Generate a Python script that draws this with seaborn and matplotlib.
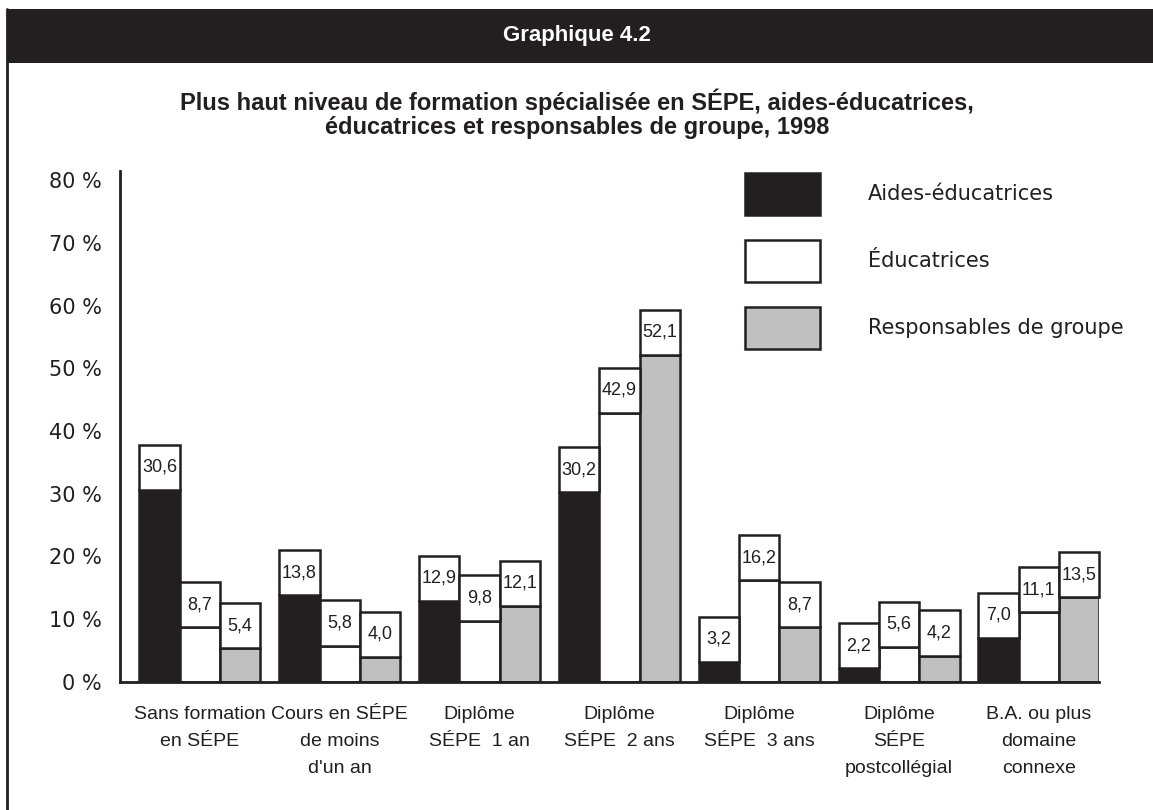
import matplotlib
matplotlib.use("Agg")
import matplotlib.pyplot as plt
from matplotlib.patches import Rectangle
from matplotlib.lines import Line2D
import seaborn as sns
import pandas as pd

categories = ["Sans formation\nen SÉPE", "Cours en SÉPE\nde moins\nd'un an", "Diplôme\nSÉPE  1 an",
              "Diplôme\nSÉPE  2 ans", "Diplôme\nSÉPE  3 ans", "Diplôme\nSÉPE\npostcollégial",
              "B.A. ou plus\ndomaine\nconnexe"]
series_names = ["Aides-éducatrices", "Éducatrices", "Responsables de groupe"]
aides = [30.6, 13.8, 12.9, 30.2, 3.2, 2.2, 7.0]
educ = [8.7, 5.8, 9.8, 42.9, 16.2, 5.6, 11.1]
resp = [5.4, 4.0, 12.1, 52.1, 8.7, 4.2, 13.5]
yticks = [0, 10, 20, 30, 40, 50, 60, 70, 80]
ytick_labels = [f"{t} %" for t in yticks]

DARK = "#231f20"
colors = [DARK, "#ffffff", "#c0c0c0"]
SANS = ["Liberation Sans", "DejaVu Sans"]

rows = []
for s, vals in zip(series_names, [aides, educ, resp]):
    for c, v in zip(categories, vals):
        rows.append({"cat": c, "serie": s, "val": v})
df = pd.DataFrame(rows)

sns.set_style("white")
plt.rcParams["font.family"] = ["DejaVu Sans"]

fig = plt.figure(figsize=(11.53, 8.10), dpi=100)
ax = fig.add_axes([120/1153, 1-682/810, 979/1153, (682-180)/810])

sns.barplot(data=df, x="cat", y="val", hue="serie", order=categories, hue_order=series_names,
            palette=colors, saturation=1, width=0.865, gap=0, edgecolor=DARK, linewidth=1.8,
            ax=ax, legend=False, errorbar=None)

for cont in ax.containers:
    for p in cont.patches:
        h = p.get_height()
        box = Rectangle((p.get_x(), h), p.get_width(), 7.2, facecolor="white", edgecolor=DARK,
                        linewidth=1.8, clip_on=False, zorder=3)
        ax.add_patch(box)
        ax.text(p.get_x() + p.get_width()/2, h + 3.6, f"{h:.1f}".replace(".", ","),
                ha="center", va="center", fontsize=13, family=SANS,
                color=DARK, zorder=4)

ax.set_xlim(-0.571, 6.43)
ax.set_ylim(0, 80)
ax.set_yticks(yticks)
ax.set_yticklabels(ytick_labels, fontsize=15, color=DARK)
ax.tick_params(axis="y", length=0, pad=13)
ax.tick_params(axis="x", length=0, pad=17)
for lab in ax.get_xticklabels():
    lab.set_fontsize(14)
    lab.set_family(SANS)
    lab.set_color(DARK)
    lab.set_linespacing(1.77)
ax.set_xlabel("")
ax.set_ylabel("")
for s in ["top", "right"]:
    ax.spines[s].set_visible(False)
for s in ["left", "bottom"]:
    ax.spines[s].set_color(DARK)
    ax.spines[s].set_linewidth(2)
ax.spines["left"].set_bounds(0, 81.5)

leg = ax.legend(ax.containers, series_names, loc="upper left",
                bbox_to_anchor=(745/1153, 1-173/810), bbox_transform=fig.transFigure,
                frameon=False, fontsize=15, handlelength=3.6, handleheight=2.72,
                handletextpad=2.3, labelspacing=1.2, borderpad=0, borderaxespad=0)
for t in leg.get_texts():
    t.set_color(DARK)

# header band and frame
fig.patches.append(Rectangle((7/1153, 1-63/810), 1-7/1153, 54/810, transform=fig.transFigure,
                             facecolor=DARK, edgecolor="none"))
fig.lines.append(Line2D([7/1153, 7/1153], [0, 1-9/810], transform=fig.transFigure,
                        color=DARK, linewidth=2))
fig.text(577/1153, 1-36/810, "Graphique 4.2", ha="center", va="center", color="white",
         fontsize=16, fontweight="bold", family=SANS)
fig.text(577/1153, 1-114/810,
         "Plus haut niveau de formation spécialisée en SÉPE, aides-éducatrices,\n"
         "éducatrices et responsables de groupe, 1998",
         ha="center", va="center", color=DARK, fontsize=17, fontweight="bold",
         family=SANS, linespacing=1.05)

fig.savefig("out.png", dpi=100)
